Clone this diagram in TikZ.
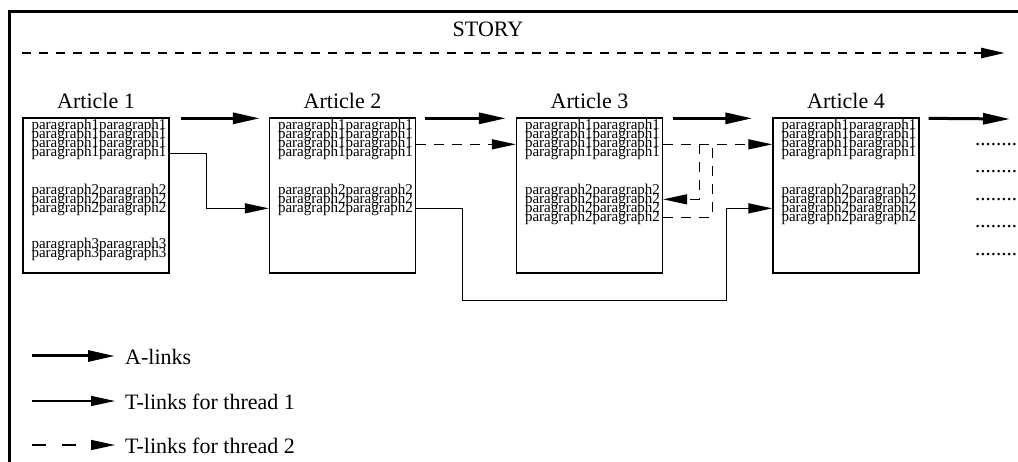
\documentclass[tikz,border=0pt]{standalone}
\usepackage{fontspec}
\setmainfont{Liberation Serif}
\usetikzlibrary{arrows.meta, positioning, calc}

\tikzset{
    artbox/.style={draw, line width=1.3bp, minimum width=146bp, minimum height=155bp, inner sep=0pt},
    paras/.style={anchor=north west, inner sep=0pt, align=left,
        font={\fontsize{15bp}{9bp}\selectfont\lineskiplimit=-100pt\relax}},
    artlabel/.style={inner sep=0pt, font=\fontsize{22bp}{24bp}\selectfont},
    legtext/.style={anchor=west, inner sep=0pt, font=\fontsize{22bp}{24bp}\selectfont},
    dots/.style={anchor=base west, inner sep=0pt, font=\fontsize{21bp}{24bp}\selectfont},
    alink/.style={line width=3bp, -{Triangle[length=27bp,width=11bp]}},
    tlink/.style={line width=1.3bp, -{Triangle[length=24bp,width=10bp]}},
    tlinktwo/.style={tlink, dash pattern=on 10bp off 8bp},
    storyline/.style={line width=2.6bp, dash pattern=on 9bp off 8bp, -{Triangle[length=24bp,width=10bp]}}
}

\begin{document}
\begin{tikzpicture}[x=1bp, y=-1bp]
    \useasboundingbox (0,0) rectangle (1018,462);

    % frame and story line
    \draw[line width=3bp] (9,462) -- (9,12) -- (1018,12);
    \node[artlabel, anchor=base] (story) at (488,37) {STORY};
    \coordinate (s0) at (22,53);
    \coordinate (s1) at (1005,53);
    \draw[storyline] (s0) -- (s1);

    % articles
    \node[artbox] (a1) at (96,195.5) {};
    \node[artbox] (a2) at (342.5,195.5) {};
    \node[artbox] (a3) at (589.5,195.5) {};
    \node[artbox] (a4) at (846,195.5) {};

    \node[artlabel, above=8bp of a1] (n1) {Article 1};
    \node[artlabel, above=8bp of a2] (n2) {Article 2};
    \node[artlabel, above=8bp of a3] (n3) {Article 3};
    \node[artlabel, above=8bp of a4] (n4) {Article 4};

    \node[paras] (t1) at ($(a1.north west)+(9,2)$) {paragraph1paragraph1\\paragraph1paragraph1\\paragraph1paragraph1\\paragraph1paragraph1\\[29bp]
        paragraph2paragraph2\\paragraph2paragraph2\\paragraph2paragraph2\\[27bp]
        paragraph3paragraph3\\paragraph3paragraph3};
    \node[paras] (t2) at ($(a2.north west)+(9,2)$) {paragraph1paragraph1\\paragraph1paragraph1\\paragraph1paragraph1\\paragraph1paragraph1\\[29bp]
        paragraph2paragraph2\\paragraph2paragraph2\\paragraph2paragraph2};
    \node[paras] (t3) at ($(a3.north west)+(9,2)$) {paragraph1paragraph1\\paragraph1paragraph1\\paragraph1paragraph1\\paragraph1paragraph1\\[29bp]
        paragraph2paragraph2\\paragraph2paragraph2\\paragraph2paragraph2\\paragraph2paragraph2};
    \node[paras] (t4) at ($(a4.north west)+(9,2)$) {paragraph1paragraph1\\paragraph1paragraph1\\paragraph1paragraph1\\paragraph1paragraph1\\[29bp]
        paragraph2paragraph2\\paragraph2paragraph2\\paragraph2paragraph2\\paragraph2paragraph2};

    \foreach \y [count=\i] in {145.5,172.5,200.5,227.5,255.5}
        \node[dots] (dots\i) at (975,\y) {........};

    % A-links
    \coordinate (more) at (1010,119);
    \draw[alink] ($(a1.north east)+(11,1)$) -- ($(a2.north west)+(-9,1)$);
    \draw[alink] ($(a2.north east)+(9,1)$) -- ($(a3.north west)+(-10,1)$);
    \draw[alink] ($(a3.north east)+(10,1)$) -- ($(a4.north west)+(-20,1)$);
    \draw[alink] ($(a4.north east)+(9,1)$) -- (more);

    % T-links, thread 1
    \draw[tlink] ($(a1.north east)+(0,36)$) -- ++(37,0) |- ($(a2.north west)+(0,91)$);
    \draw[tlink] ($(a2.north east)+(0,91)$) -- ++(46,0) -- ++(0,92) -| ($(a4.north west)+(-46,91)$) -- ($(a4.north west)+(0,91)$);

    % T-links, thread 2
    \draw[tlinktwo] ($(a2.north east)+(0,27)$) -- ($(a3.north west)+(0,27)$);
    \draw[tlinktwo] ($(a3.north east)+(0,27)$) -- ($(a4.north west)+(0,27)$);
    \draw[tlinktwo, -] ($(a3.north east)+(0,100)$) -- ++(49,0) -- ++(0,-73);
    \draw[tlinktwo] ($(a3.north east)+(36,27)$) -- ++(0,55) -- ($(a3.north east)+(0,82)$);

    % legend
    \coordinate (la0) at (32,356);  \coordinate (la1) at (115,356);
    \coordinate (lb0) at (32,401);  \coordinate (lb1) at (115,401);
    \coordinate (lc0) at (32,445);  \coordinate (lc1) at (115,445);
    \draw[alink] (la0) -- (la1);
    \draw[tlink] (lb0) -- (lb1);
    \draw[tlink, dash pattern=on 14bp off 16bp] (lc0) -- (lc1);
    \node[legtext] (lta) at (125,357) {A-links};
    \node[legtext] (ltb) at (125,402) {T-links for thread 1};
    \node[legtext] (ltc) at (125,446) {T-links for thread 2};
\end{tikzpicture}
\end{document}
